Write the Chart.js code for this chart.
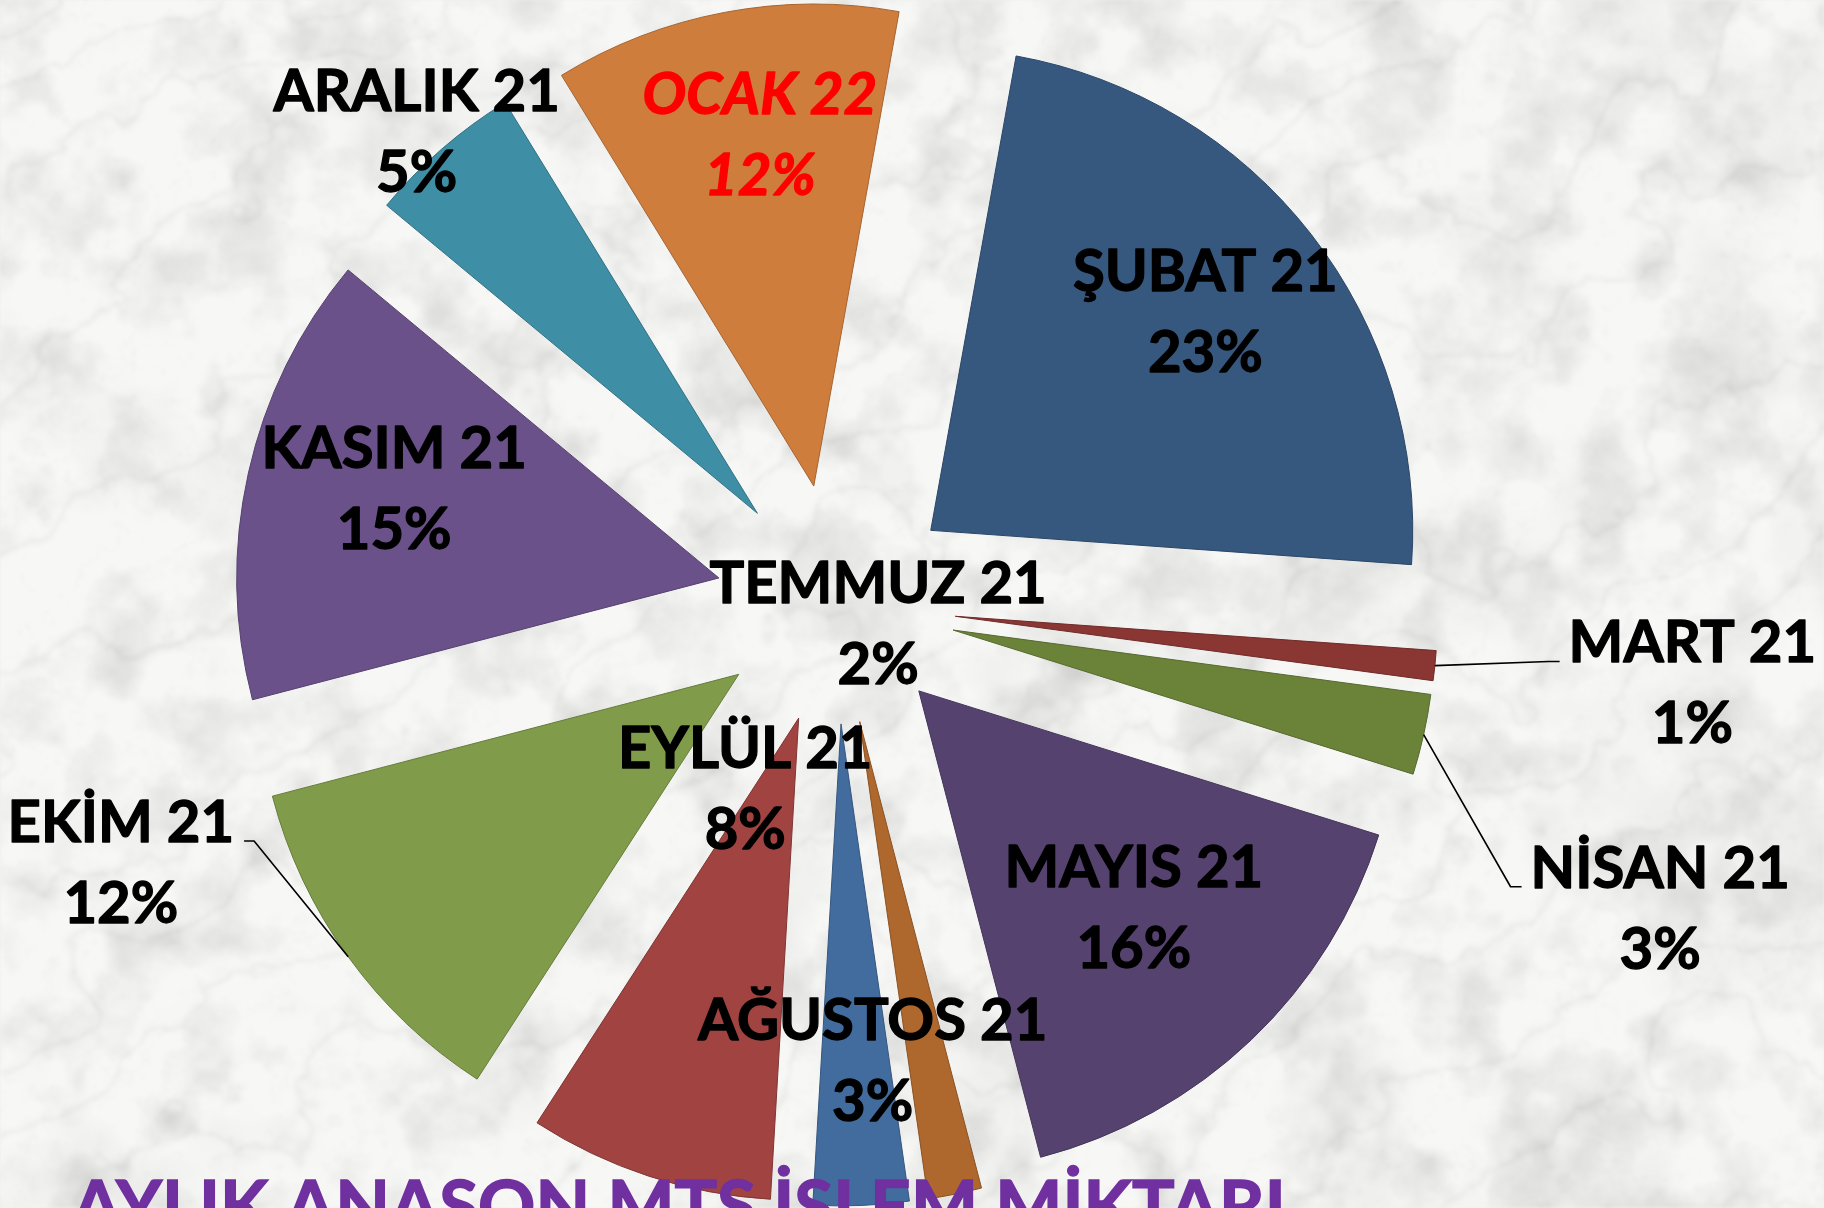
<!DOCTYPE html>
<html>
<head>
<meta charset="utf-8">
<title>Aylık Anason MTS İşlem Miktarı</title>
<script src="https://cdn.jsdelivr.net/npm/chart.js@4/dist/chart.umd.min.js"></script>
<style>
  html, body { margin: 0; padding: 0; background: #eeeeee; overflow: hidden; }
  canvas { display: block; }
</style>
</head>
<body>
<canvas id="pie" width="1824" height="1208"></canvas>
<script>
// Months, in the order the slices run clockwise
const months = ['ŞUBAT 21', 'MART 21', 'NİSAN 21', 'MAYIS 21', 'TEMMUZ 21', 'AĞUSTOS 21',
                'EYLÜL 21', 'EKİM 21', 'KASIM 21', 'ARALIK 21', 'OCAK 22'];
// Monthly transaction volume
const volumes = [233, 10, 27, 161, 18, 32, 82, 118, 151, 52, 116];
// The current month is written in red
const highlightMonth = 'OCAK 22';
const chartTitle = 'AYLIK ANASON MTS İŞLEM MİKTARI';

const sliceColors = ['#36587f', '#8a3633', '#6b8339', '#55426f', '#ae672c', '#426c9e',
                     '#a04341', '#809c4a', '#6a5189', '#3e8ea6', '#cf7d3d'];

// Label anchors: angle (deg, clockwise from 12 o'clock) and distance in pie radii
const labelSpots = [
  { angle: 51.5,  dist: 0.979 },
  { angle: 95.2,  dist: 1.784, leader: 'right' },
  { angle: 110.2, dist: 1.822, leader: 'right' },
  { angle: 135.4, dist: 0.880 },
  { angle: 113.2, dist: 0.095 },
  { angle: 175.4, dist: 0.948 },
  { angle: 206.3, dist: 0.425 },
  { angle: 250.2, dist: 1.577, leader: 'left' },
  { angle: 284.8, dist: 0.948 },
  { angle: 318.5, dist: 1.313 },
  { angle: 350.8, dist: 0.988 }
];

const LABEL_FONT = 'Lato, "Open Sans", sans-serif';
const LABEL_SIZE = 58;
const LINE_GAP = 81;
const EXPLODE = 0.249;   // how far each slice is pulled out, in pie radii

// ---------- marble backdrop ----------
function makeMarble(w, h) {
  const s = 3;
  const cw = Math.ceil(w / s), ch = Math.ceil(h / s);
  const off = document.createElement('canvas');
  off.width = cw; off.height = ch;
  const g = off.getContext('2d');
  const img = g.createImageData(cw, ch);
  const d = img.data;
  const hash = (x, y) => {
    let n = (Math.imul(x, 374761393) + Math.imul(y, 668265263)) | 0;
    n = Math.imul(n ^ (n >>> 13), 1274126177);
    n ^= n >>> 16;
    return (n >>> 0) / 4294967295;
  };
  const sm = t => t * t * (3 - 2 * t);
  const vnoise = (x, y) => {
    const xi = Math.floor(x), yi = Math.floor(y);
    const u = sm(x - xi), v = sm(y - yi);
    const a = hash(xi, yi), b = hash(xi + 1, yi), c = hash(xi, yi + 1), e = hash(xi + 1, yi + 1);
    return a + (b - a) * u + (c - a) * v + (a - b - c + e) * u * v;
  };
  const fbm = (x, y) => {
    let sum = 0, amp = 0.5, f = 1;
    for (let o = 0; o < 5; o++) { sum += amp * vnoise(x * f, y * f); f *= 2; amp *= 0.5; }
    return sum;
  };
  for (let y = 0; y < ch; y++) {
    for (let x = 0; x < cw; x++) {
      const px = x * s, py = y * s;
      const n = fbm(px / 170, py / 170);
      const m = fbm(px / 45 + 7.3, py / 45 + 2.1);
      const big = fbm(px / 120 + 3.7, py / 120 + 9.1);
      const phase = (px * 0.55 + py * 0.83) / 40 + n * 9;
      const vein = Math.pow(1 - Math.abs(Math.sin(phase)), 8);
      const phase2 = (px * 0.8 + py * 0.6) / 26 + m * 10;
      const vein2 = Math.pow(1 - Math.abs(Math.sin(phase2)), 14);
      let v = 247 - Math.max(0, m - 0.42) * 55 - Math.max(0, big - 0.5) * 40 - vein * 11 - vein2 * 6;
      v = Math.max(205, Math.min(251, v));
      const k = (y * cw + x) * 4;
      d[k] = v; d[k + 1] = v; d[k + 2] = v - 1; d[k + 3] = 255;
    }
  }
  g.putImageData(img, 0, 0);
  return off;
}

const marbleBackdrop = {
  id: 'marbleBackdrop',
  beforeDraw(chart) {
    const ctx = chart.ctx;
    if (!this._tex) this._tex = makeMarble(chart.width, chart.height);
    ctx.save();
    ctx.imageSmoothingEnabled = true;
    ctx.imageSmoothingQuality = 'high';
    ctx.filter = 'blur(1.5px)';
    ctx.drawImage(this._tex, 0, 0, chart.width, chart.height);
    ctx.restore();
  }
};

function pieCentre(chart) {
  const ca = chart.chartArea;
  const ctrl = chart.getDatasetMeta(0).controller;
  return {
    x: (ca.left + ca.right) / 2 + (ctrl.offsetX || 0),
    y: (ca.top + ca.bottom) / 2 + (ctrl.offsetY || 0),
    r: ctrl.outerRadius
  };
}

// Exploded pie: every slice slides out along its own bisector by the same distance
const explodeSlices = {
  id: 'explodeSlices',
  beforeDatasetDraw(chart, args) {
    const c = pieCentre(chart);
    const d = EXPLODE * c.r;
    args.meta.data.forEach(arc => {
      const mid = (arc.startAngle + arc.endAngle) / 2;
      arc.x = c.x + Math.cos(mid) * d;
      arc.y = c.y + Math.sin(mid) * d;
    });
  }
};

// Two-line data labels ("MONTH" / "pp%") with leader lines for the outside ones
const sliceLabels = {
  id: 'sliceLabels',
  afterDatasetsDraw(chart) {
    const ctx = chart.ctx;
    const meta = chart.getDatasetMeta(0);
    const c = pieCentre(chart);
    const R = c.r;
    const total = volumes.reduce((a, b) => a + b, 0);
    ctx.save();
    meta.data.forEach((arc, i) => {
      const spot = labelSpots[i];
      const a = (spot.angle - 90) * Math.PI / 180;
      const bx = c.x + Math.cos(a) * spot.dist * R;
      const by = c.y + Math.sin(a) * spot.dist * R;
      const hot = months[i] === highlightMonth;
      const colour = hot ? '#ff0000' : '#000000';
      ctx.font = (hot ? 'italic ' : '') + '700 ' + LABEL_SIZE + 'px ' + LABEL_FONT;
      ctx.fillStyle = colour;
      ctx.strokeStyle = colour;
      ctx.lineWidth = 1.3;
      ctx.lineJoin = 'round';
      ctx.textAlign = 'center';
      ctx.textBaseline = 'alphabetic';
      const pct = Math.round(volumes[i] / total * 100) + '%';
      const base1 = by - LINE_GAP / 2 + 21;
      ctx.fillText(months[i], bx, base1);
      ctx.strokeText(months[i], bx, base1);
      ctx.fillText(pct, bx, base1 + LINE_GAP);
      ctx.strokeText(pct, bx, base1 + LINE_GAP);

      if (spot.leader) {
        const w = ctx.measureText(months[i]).width;
        const mid = (arc.startAngle + arc.endAngle) / 2;
        const reach = (EXPLODE + 1) * R;
        const sx = c.x + Math.cos(mid) * reach;
        const sy = c.y + Math.sin(mid) * reach;
        let ex, elx;
        if (spot.leader === 'right') { ex = bx - w / 2 - 9; elx = ex - 11; }
        else { ex = bx + w / 2 + 10; elx = ex + 10; }
        const ey = base1 - 1;
        ctx.beginPath();
        ctx.moveTo(sx, sy);
        ctx.lineTo(elx, ey);
        ctx.lineTo(ex, ey);
        ctx.strokeStyle = '#000000';
        ctx.lineWidth = 1.6;
        ctx.stroke();
      }
    });
    ctx.restore();
  }
};

// Title along the bottom edge, drawn over the slices
const bottomTitle = {
  id: 'bottomTitle',
  afterDraw(chart) {
    const ctx = chart.ctx;
    ctx.save();
    let size = 72;
    ctx.font = '700 ' + size + 'px ' + LABEL_FONT;
    const w = ctx.measureText(chartTitle).width;
    size = size * 1213 / w;
    ctx.font = '700 ' + size.toFixed(1) + 'px ' + LABEL_FONT;
    ctx.fillStyle = '#7030a0';
    ctx.strokeStyle = '#7030a0';
    ctx.lineWidth = 1.5;
    ctx.textAlign = 'left';
    ctx.textBaseline = 'alphabetic';
    const y = 1180 + size * 0.7165;
    ctx.fillText(chartTitle, 72, y);
    ctx.strokeText(chartTitle, 72, y);
    ctx.restore();
  }
};

function darker(hex, k) {
  const n = parseInt(hex.slice(1), 16);
  const r = Math.round(((n >> 16) & 255) * k), g = Math.round(((n >> 8) & 255) * k), b = Math.round((n & 255) * k);
  return 'rgb(' + r + ',' + g + ',' + b + ')';
}

function build() {
  new Chart(document.getElementById('pie'), {
    type: 'pie',
    data: {
      labels: months,
      datasets: [{
        data: volumes,
        backgroundColor: sliceColors,
        borderColor: sliceColors.map(c => darker(c, 0.8)),
        borderWidth: 1,
        offset: 0
      }]
    },
    options: {
      responsive: false,
      devicePixelRatio: 1,
      animation: false,
      events: [],
      rotation: 10.2,
      radius: 482,
      layout: { padding: { left: 0, right: 152, top: 0, bottom: 0 } },
      plugins: {
        legend: { display: false },
        tooltip: { enabled: false },
        title: { display: false }
      }
    },
    plugins: [marbleBackdrop, explodeSlices, sliceLabels, bottomTitle]
  });
}

const fontReady = document.fonts && document.fonts.load
  ? Promise.all([document.fonts.load('700 58px Lato'), document.fonts.load('italic 700 58px Lato')]).catch(() => {})
  : Promise.resolve();
fontReady.then(build);
</script>
</body>
</html>
